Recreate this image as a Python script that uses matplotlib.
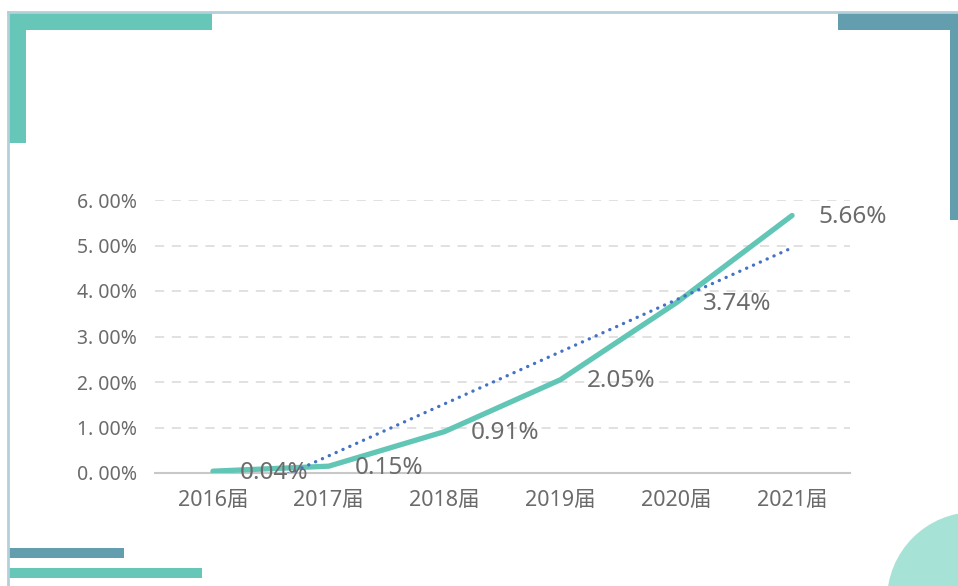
import matplotlib.pyplot as plt
import numpy as np
from matplotlib.patches import Rectangle, Ellipse
from matplotlib.lines import Line2D

plt.rcParams['font.family'] = ['Noto Sans', 'Noto Sans CJK SC', 'DejaVu Sans']

years = ['2016届', '2017届', '2018届', '2019届', '2020届', '2021届']
rates = [0.04, 0.15, 0.91, 2.05, 3.74, 5.66]
rate_labels = ['0.04%', '0.15%', '0.91%', '2.05%', '3.74%', '5.66%']
yticks = [0, 1, 2, 3, 4, 5, 6]
ytick_labels = ['0. 00%', '1. 00%', '2. 00%', '3. 00%', '4. 00%', '5. 00%', '6. 00%']

W, H = 958, 586
fig = plt.figure(figsize=(W / 100, H / 100), dpi=100)
fig.patch.set_facecolor('white')


def px_rect(x0, y0, x1, y1, color):
    # pixel box (top-left origin) -> figure fraction rectangle
    fig.patches.append(Rectangle((x0 / W, 1 - y1 / H), (x1 - x0) / W, (y1 - y0) / H,
                                 transform=fig.transFigure, color=color, lw=0, zorder=0))


# frame decorations
frame = '#b3cfd9'
fig.lines.append(Line2D([8 / W, 8 / W], [0, 1 - 12 / H], transform=fig.transFigure, color=frame, lw=2))
fig.lines.append(Line2D([8 / W, 1], [1 - 12 / H, 1 - 12 / H], transform=fig.transFigure, color=frame, lw=2))
teal = '#66c6b8'
dark = '#629eae'
px_rect(9, 13, 212, 30, teal)
px_rect(9, 13, 26, 143, teal)
px_rect(838, 13, 958, 30, dark)
px_rect(950, 13, 958, 220, dark)
px_rect(9, 548, 124, 558, dark)
px_rect(9, 568, 202, 578, teal)
fig.patches.append(Ellipse((975 / W, 1 - 600 / H), 2 * 88 / W, 2 * 88 / H,
                           transform=fig.transFigure, color='#a6e2d6', lw=0, zorder=0))

ax = fig.add_axes([155 / W, 1 - 473 / H, (850 - 155) / W, (473 - 200) / H])
ax.set_facecolor('none')
x = np.arange(len(years))

ax.plot(x, rates, color='#62c6b6', lw=3.8, solid_capstyle='round', zorder=3)

# linear trendline
k, b = np.polyfit(x, rates, 1)
ax.plot(x, k * x + b, color='#4472c4', lw=2.4, linestyle=(0, (0.05, 2.2)),
        dash_capstyle='round', zorder=4)

for xi, yi, lab in zip(x, rates, rate_labels):
    ax.annotate(lab, (xi, yi), xytext=(19, -1), textcoords='offset points',
                ha='left', va='center', fontsize=17.5, color='#6b6b6b', zorder=5,
                annotation_clip=False)

ax.set_xlim(-0.5, 5.5)
ax.set_ylim(0, 6)
ax.set_xticks(x)
ax.set_xticklabels(years)
ax.set_yticks(yticks)
ax.set_yticklabels(ytick_labels)
ax.tick_params(axis='x', length=0, pad=12, labelsize=15.5, labelcolor='#6b6b6b')
ax.tick_params(axis='y', length=0, pad=13, labelsize=14, labelcolor='#6b6b6b')
ax.grid(axis='y', color='#d9d9d9', linestyle=(0, (6, 5)), lw=1.1)
for s in ['top', 'right', 'left']:
    ax.spines[s].set_visible(False)
ax.spines['bottom'].set_color('#c8c8c8')
ax.spines['bottom'].set_linewidth(1.5)
ax.set_axisbelow(True)

fig.savefig('out.png', dpi=100)
